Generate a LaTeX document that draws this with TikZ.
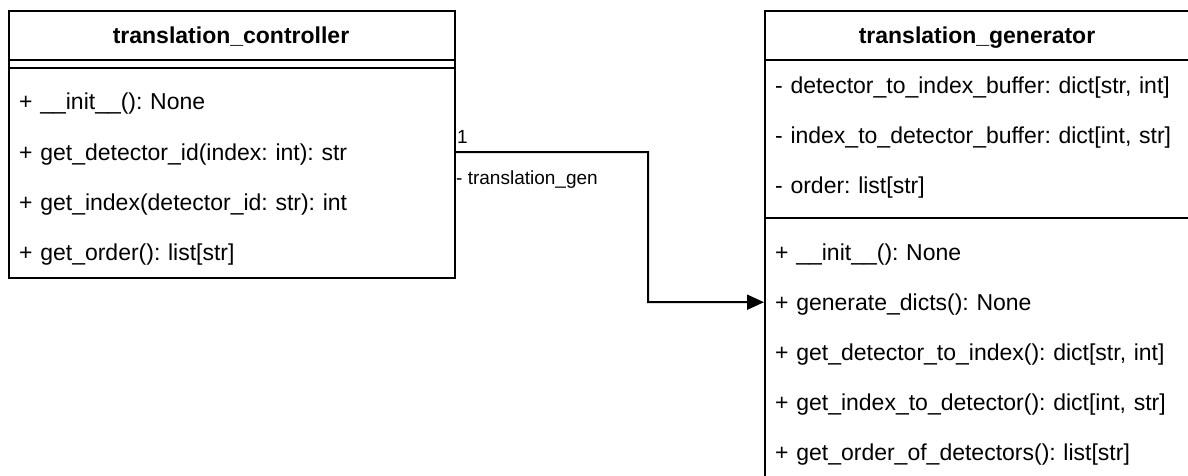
\documentclass[tikz,border=0pt]{standalone}
\usepackage{fontspec}
\setmainfont{Liberation Sans}
\usetikzlibrary{arrows.meta}
\frenchspacing
\tikzset{
  boxline/.style={draw=black, line width=2pt},
  classbox/.style={draw=black, line width=2pt, rectangle, anchor=north west, inner sep=0pt},
  titlenode/.style={font=\fontsize{23}{27}\selectfont\bfseries, anchor=base, inner sep=0pt},
  rownode/.style={rectangle, anchor=north west, minimum height=50pt, inner xsep=11pt, inner ysep=0pt,
    text height=21pt, text depth=4pt, align=left, font=\fontsize{23}{27}\selectfont},
  edgelabel/.style={font=\fontsize{19}{22}\selectfont, anchor=base west, inner sep=0pt},
  assoc/.style={draw=black, line width=2pt, -{Triangle[length=17pt,width=15pt]}},
}
\begin{document}
\frenchspacing
\begin{tikzpicture}[x=1pt, y=-1pt]
\useasboundingbox (0,0) rectangle (1188,475);

% translation_controller
\node[classbox, minimum width=446pt, minimum height=267pt] (ctrl) at (8,10) {};
\node[titlenode] (ctrltitle) at (231,43) {translation\_controller};
\draw[boxline] (8,60) -- (454,60);
\draw[boxline] (8,68) -- (454,68);
\node[rownode, minimum width=446pt, text width=424pt] (c1) at (8,76) {\mbox{+ \_\_init\_\_(): None}};
\node[rownode, minimum width=446pt, text width=424pt] (c2) at (8,127) {\mbox{+ get\_detector\_id(index: int): str}};
\node[rownode, minimum width=446pt, text width=424pt] (c3) at (8,177) {\mbox{+ get\_index(detector\_id: str): int}};
\node[rownode, minimum width=446pt, text width=424pt] (c4) at (8,227) {\mbox{+ get\_order(): list[str]}};

% translation_generator
\node[classbox, minimum width=426pt, minimum height=467pt] (gen) at (764,10) {};
\node[titlenode] (gentitle) at (977,43) {translation\_generator};
\draw[boxline] (764,60) -- (1190,60);
\draw[boxline] (764,218) -- (1190,218);
\node[rownode, minimum width=426pt, text width=404pt] (a1) at (764,60) {\mbox{- detector\_to\_index\_buffer: dict[str, int]}};
\node[rownode, minimum width=426pt, text width=404pt] (a2) at (764,110) {\mbox{- index\_to\_detector\_buffer: dict[int, str]}};
\node[rownode, minimum width=426pt, text width=404pt] (a3) at (764,160) {\mbox{- order: list[str]}};
\node[rownode, minimum width=426pt, text width=404pt] (g1) at (764,227) {\mbox{+ \_\_init\_\_(): None}};
\node[rownode, minimum width=426pt, text width=404pt] (g2) at (764,277) {\mbox{+ generate\_dicts(): None}};
\node[rownode, minimum width=426pt, text width=404pt] (g3) at (764,327) {\mbox{+ get\_detector\_to\_index(): dict[str, int]}};
\node[rownode, minimum width=426pt, text width=404pt] (g4) at (764,377) {\mbox{+ get\_index\_to\_detector(): dict[int, str]}};
\node[rownode, minimum width=426pt, text width=404pt] (g5) at (764,427) {\mbox{+ get\_order\_of\_detectors(): list[str]}};

% association
\coordinate (bend) at (648,152);
\draw[assoc] (c2.east) -- (bend) |- (g2.west);
\node[edgelabel] (mult) at (457,143) {1};
\node[edgelabel] (role) at (456,184) {- translation\_gen};
\end{tikzpicture}
\end{document}
